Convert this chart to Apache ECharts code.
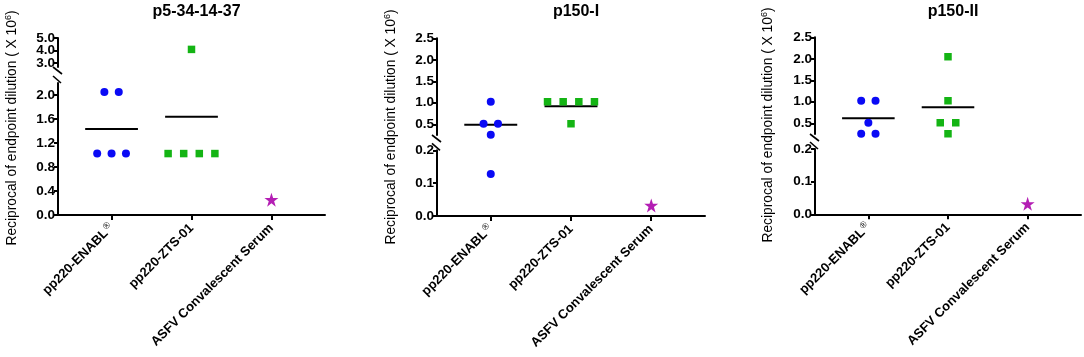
<!DOCTYPE html>
<html>
<head>
<meta charset="utf-8">
<script src="https://cdn.jsdelivr.net/npm/echarts@6/dist/echarts.min.js"></script>
<style>
  html, body { margin: 0; padding: 0; background: #fff; }
  #chart { width: 1084px; height: 357px; }
</style>
</head>
<body>
<div id="chart"></div>
<script>
// ---- data (reciprocal endpoint dilution, x 10^6) ----
var categories = ['pp220-ENABL', 'pp220-ZTS-01', 'ASFV Convalescent Serum'];
var titles = ['p5-34-14-37', 'p150-I', 'p150-II'];

var p1Enabl = [2.048, 2.048, 1.024, 1.024, 1.024];
var p1Zts = [4.096, 1.024, 1.024, 1.024, 1.024];
var p1Serum = [0.256];

var p2Enabl = [1.024, 0.512, 0.512, 0.256, 0.128];
var p2Zts = [1.024, 1.024, 1.024, 1.024, 0.512];
var p2Serum = [0.032];

var p3Enabl = [1.024, 1.024, 0.512, 0.256, 0.256];
var p3Zts = [2.048, 1.024, 0.512, 0.512, 0.256];
var p3Serum = [0.032];

// tick labels for the broken y axes
var p1UpperTicks = [3.0, 4.0, 5.0];
var p1LowerTicks = [0.0, 0.4, 0.8, 1.2, 1.6, 2.0];
var p150UpperTicks = [0.5, 1.0, 1.5, 2.0, 2.5];
var p150LowerTicks = [0.0, 0.1, 0.2];

// ---- layout ----
var panels = [
  { title: titles[0], groups: [p1Enabl, p1Zts, p1Serum], left: 58, width: 267,
    upper: { top: 38, height: 29, min: 2.7, max: 5.0, ticks: p1UpperTicks },
    lower: { top: 83, height: 132, min: 0, max: 2.2, ticks: p1LowerTicks },
    labelX: 12, labelY: 128 },
  { title: titles[1], groups: [p2Enabl, p2Zts, p2Serum], left: 437, width: 268,
    upper: { top: 38.3, height: 96.7, min: 0.25, max: 2.5, ticks: p150UpperTicks },
    lower: { top: 150.3, height: 65.7, min: 0, max: 0.2, ticks: p150LowerTicks },
    labelX: 391, labelY: 127 },
  { title: titles[2], groups: [p3Enabl, p3Zts, p3Serum], left: 815, width: 266,
    upper: { top: 37.3, height: 96.7, min: 0.25, max: 2.5, ticks: p150UpperTicks },
    lower: { top: 149, height: 65.3, min: 0, max: 0.2, ticks: p150LowerTicks },
    labelX: 768, labelY: 125 }
];

var groupStyle = [
  { symbol: 'circle', size: 8, color: '#0a0af5', step: 0.18 },
  { symbol: 'rect', size: 7.5, color: '#14b414', step: 0.195 },
  { symbol: 'path://M12,0 L14.9,8.6 L24,8.6 L16.6,14 L19.4,22.8 L12,17.4 L4.6,22.8 L7.4,14 L0,8.6 L9.1,8.6 Z',
    size: 14, color: '#b41eb4', step: 0.18 }
];

var FONT = '"Liberation Sans", Arial, sans-serif';
var supRich = { sup: { fontSize: 9, fontWeight: 'normal', verticalAlign: 'top', padding: [0, 0, 7, 1] } };

// spread equal values symmetrically around the category centre
function jitter(values, center, step) {
  var counts = {}, seen = {};
  values.forEach(function (v) { counts[v] = (counts[v] || 0) + 1; });
  return values.map(function (v) {
    var n = counts[v], i = seen[v] || 0;
    seen[v] = i + 1;
    return [center + (i - (n - 1) / 2) * step, v];
  });
}

function mean(arr) {
  return arr.reduce(function (a, b) { return a + b; }, 0) / arr.length;
}

function yAxisFor(gi, seg, ticks, showLine) {
  return {
    gridIndex: gi, type: 'value', min: seg.min, max: seg.max, position: 'left', offset: 0,
    splitLine: { show: false },
    axisLine: { show: showLine, onZero: false, lineStyle: { color: '#000', width: 2 } },
    axisTick: { show: true, length: 4, customValues: ticks, lineStyle: { color: '#000', width: 2 } },
    axisLabel: {
      customValues: ticks, margin: 3,
      showMinLabel: true, showMaxLabel: true, hideOverlap: false,
      color: '#000', fontFamily: FONT, fontWeight: 'bold', fontSize: 13.5,
      formatter: function (v) { return v.toFixed(1); }
    }
  };
}

var grid = [], xAxis = [], yAxis = [], extraY = [], series = [], title = [], graphic = [];

panels.forEach(function (p, pi) {
  var ui = pi * 2, li = pi * 2 + 1;
  [p.upper, p.lower].forEach(function (seg, k) {
    var isLower = k === 1;
    grid.push({ left: p.left, width: p.width, top: seg.top, height: seg.height });
    xAxis.push({
      gridIndex: ui + k, type: 'value', min: -0.67, max: 2.67,
      show: isLower,
      splitLine: { show: false },
      axisLine: { show: true, onZero: false, lineStyle: { color: '#000', width: 2 } },
      axisTick: { show: true, length: 5, customValues: [0, 1, 2], lineStyle: { color: '#000', width: 2 } },
      axisLabel: {
        customValues: [0, 1, 2], rotate: 45, margin: 11,
        showMinLabel: true, showMaxLabel: true, hideOverlap: false,
        color: '#000', fontFamily: FONT, fontWeight: 'bold', fontSize: 13,
        formatter: function (v) {
          var i = Math.round(v);
          return i === 0 ? categories[0] + '{sup|®}' : categories[i];
        },
        rich: supRich
      }
    });
    // alternate labels on two stacked axes so tight ticks are never auto-hidden
    var even = seg.ticks.filter(function (t, i) { return i % 2 === 0; });
    var odd = seg.ticks.filter(function (t, i) { return i % 2 === 1; });
    yAxis.push(yAxisFor(ui + k, seg, even, true));
    extraY.push(yAxisFor(ui + k, seg, odd, false));
  });

  var split = (p.upper.min + p.lower.max) / 2;
  p.groups.forEach(function (vals, gi) {
    var st = groupStyle[gi];
    var pts = jitter(vals, gi, st.step);
    // mean bar
    if (vals.length > 1) {
      var m = mean(vals);
      var idx = m >= split ? ui : li;
      series.push({
        type: 'line', xAxisIndex: idx, yAxisIndex: idx, symbol: 'none', z: 2,
        lineStyle: { color: '#000', width: 2 }, silent: true,
        data: [[gi - 0.33, m], [gi + 0.33, m]]
      });
    }
    [ui, li].forEach(function (idx) {
      var part = pts.filter(function (d) { return idx === ui ? d[1] >= split : d[1] < split; });
      if (!part.length) return;
      series.push({
        type: 'scatter', xAxisIndex: idx, yAxisIndex: idx, z: 3,
        symbol: st.symbol, symbolSize: st.size,
        itemStyle: { color: st.color, opacity: 1 },
        data: part
      });
    });
  });

  title.push({
    text: p.title, left: p.left + p.width / 2, top: -1, textAlign: 'center',
    textStyle: { fontFamily: FONT, fontWeight: 'bold', fontSize: 16, color: '#000' }
  });

  // y label
  graphic.push({
    type: 'text', x: p.labelX, y: p.labelY, rotation: Math.PI / 2,
    style: {
      text: 'Reciprocal of endpoint dilution ( X 10{sup|6})',
      font: '13.8px ' + FONT, fill: '#000', align: 'center', verticalAlign: 'middle',
      rich: { sup: { fontSize: 9, verticalAlign: 'top', padding: [0, 0, 7, 0] } }
    }
  });

  // axis break marks
  var x = p.left, ub = p.upper.top + p.upper.height, lt = p.lower.top;
  graphic.push({ type: 'line', shape: { x1: x - 5, y1: ub, x2: x + 4, y2: ub + 7 },
    style: { stroke: '#000', lineWidth: 1.6 } });
  graphic.push({ type: 'line', shape: { x1: x - 5, y1: lt - 7, x2: x + 3, y2: lt },
    style: { stroke: '#000', lineWidth: 1.6 } });
});

var chart = echarts.init(document.getElementById('chart'), null, { renderer: 'canvas' });
chart.setOption({
  backgroundColor: '#fff',
  animation: false,
  title: title,
  grid: grid,
  xAxis: xAxis,
  yAxis: yAxis.concat(extraY),
  series: series,
  graphic: graphic
});
</script>
</body>
</html>
